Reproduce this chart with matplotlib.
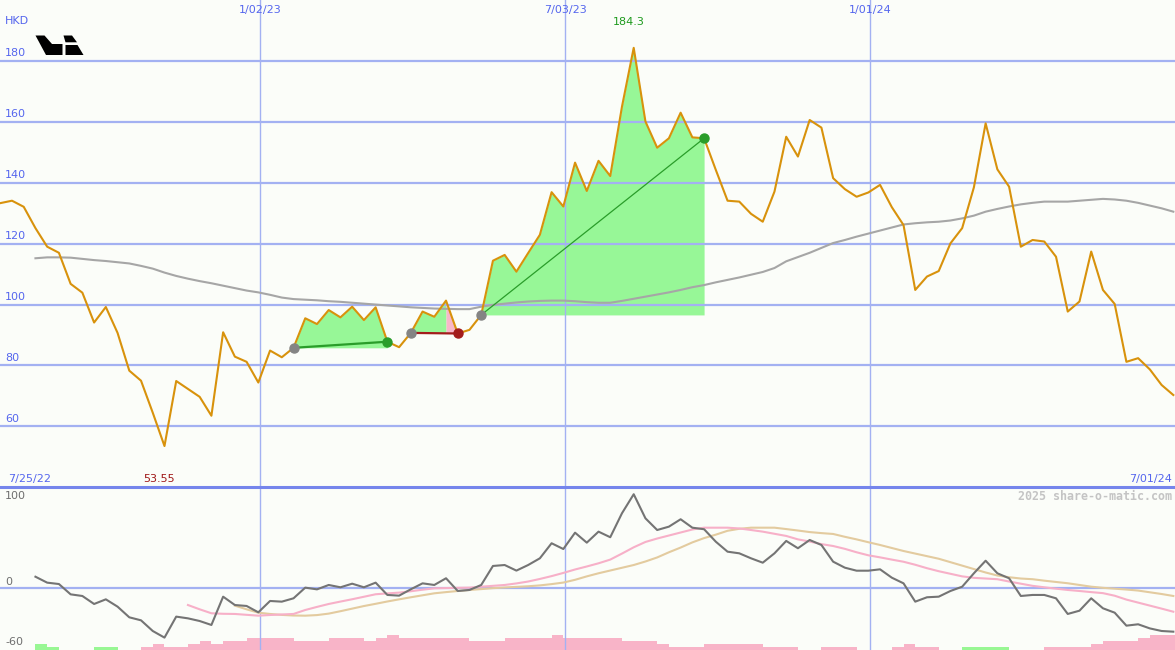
import numpy as np
import pandas as pd
import matplotlib
matplotlib.use('Agg')
import matplotlib.pyplot as plt
import matplotlib.transforms as mtransforms
from matplotlib.patches import Polygon
from matplotlib.lines import Line2D

# weekly closes, HKD
dates = pd.date_range('2022-07-31', periods=101, freq='7D')

price = [133.3, 134.1, 132.1, 125.1, 119.0, 117.0, 106.8, 103.9, 94.1, 99.2,
         90.7, 78.3, 75.0, 64.5, 53.55, 74.9, 72.3, 69.7, 63.5, 90.9,
         82.9, 81.2, 74.4, 84.9, 82.7, 85.8, 95.5, 93.6, 98.2, 95.8,
         99.3, 94.9, 99.1, 87.8, 86.0, 90.7, 97.7, 96.0, 101.3, 90.5,
         91.7, 96.6, 114.4, 116.3, 110.8, 116.9, 122.9, 136.9, 132.2, 146.6,
         137.3, 147.2, 142.2, 165.0, 184.3, 160.1, 151.5, 154.6, 163.0, 154.9,
         154.6, 144.2, 134.1, 133.8, 129.8, 127.2, 137.1, 155.1, 148.6, 160.6,
         158.1, 141.5, 137.9, 135.4, 136.8, 139.3, 132.0, 126.1, 104.8, 109.2,
         111.0, 120.1, 125.1, 138.5, 159.5, 144.4, 138.7, 119.0, 121.2, 120.7,
         115.7, 97.7, 101.0, 117.4, 104.8, 100.2, 81.2, 82.4, 78.7, 73.6,
         70.3]

# long moving average (starts at week 3)
ma_start = 3
ma = [115.2, 115.5, 115.5, 115.4, 115.0, 114.6, 114.3, 113.9, 113.5, 112.7,
      111.8, 110.5, 109.4, 108.5, 107.7, 107.0, 106.2, 105.4, 104.6, 104.0,
      103.2, 102.3, 101.8, 101.6, 101.4, 101.1, 100.9, 100.6, 100.3, 100.0,
      99.7, 99.4, 99.1, 98.9, 98.7, 98.6, 98.5, 98.5, 99.3, 99.9,
      100.3, 100.7, 101.0, 101.2, 101.3, 101.3, 101.1, 100.8, 100.6, 100.6,
      101.2, 101.9, 102.6, 103.3, 104.0, 104.8, 105.7, 106.4, 107.3, 108.1,
      108.9, 109.8, 110.7, 112.0, 114.2, 115.6, 117.0, 118.6, 120.2, 121.2,
      122.3, 123.3, 124.3, 125.3, 126.3, 126.7, 127.0, 127.2, 127.6, 128.3,
      129.2, 130.5, 131.4, 132.2, 132.9, 133.4, 133.8, 133.8, 133.8, 134.1,
      134.4, 134.7, 134.5, 134.1, 133.4, 132.5, 131.6, 130.5]

# oscillator panel
osc_start = 3
osc = [13.1, 6.2, 4.6, -7.4, -9.3, -18.6, -13.2, -21.7, -34.1, -37.6,
       -50.0, -57.7, -33.3, -35.3, -38.4, -43.0, -10.1, -19.8, -20.9, -28.3,
       -15.1, -15.9, -12.0, 0.4, -1.6, 3.5, 0.8, 5.0, 0.8, 6.2,
       -8.1, -8.9, -1.5, 5.4, 3.5, 11.3, -3.5, -2.3, 3.5, 25.6,
       26.7, 20.2, 26.7, 34.5, 52.0, 45.3, 64.3, 52.7, 65.5, 59.0,
       86.9, 109.0, 81.0, 67.4, 71.3, 79.9, 70.1, 68.3, 53.8, 42.2,
       40.3, 34.5, 29.4, 40.3, 54.7, 46.2, 55.8, 50.0, 30.6, 23.6,
       20.1, 20.1, 21.7, 12.0, 5.4, -15.9, -10.8, -10.1, -3.5, 1.5,
       17.1, 31.7, 17.1, 11.3, -9.3, -8.1, -8.1, -12.0, -30.2, -26.4,
       -12.0, -23.6, -28.7, -43.8, -42.2, -47.0, -50.0, -50.8]

pink_start = 16
osc_pink = [-19.8, -24.8, -29.4, -30.0, -30.2, -31.2, -32.2, -31.4, -30.8, -30.2,
            -25.6, -22.0, -18.6, -15.8, -13.1, -10.2, -7.3, -6.3, -5.4, -3.8,
            -2.0, -0.4, -0.1, 0.2, 0.4, 1.5, 2.5, 3.5, 5.3, 7.5,
            10.5, 13.8, 17.5, 21.5, 25.0, 28.7, 33.0, 40.0, 47.3, 53.5,
            57.5, 61.0, 64.5, 68.0, 70.1, 70.1, 70.1, 69.2, 67.4, 65.5,
            63.0, 60.5, 56.5, 54.0, 51.0, 48.8, 45.5, 41.5, 38.0, 35.6,
            33.0, 30.5, 27.0, 23.0, 19.5, 16.5, 13.5, 11.8, 11.0, 10.2,
            7.5, 5.0, 2.5, 0.8, -0.8, -2.3, -3.5, -4.8, -6.0, -9.0,
            -13.5, -17.0, -20.5, -24.0, -27.6]

tan_start = 20
osc_tan = [-20.5, -24.8, -28.7, -30.2, -31.3, -32.0, -32.2, -31.5, -29.8, -27.0,
           -24.0, -21.0, -18.4, -15.7, -13.2, -10.8, -8.5, -6.2, -4.8, -3.5,
           -2.3, -1.3, -0.2, 0.6, 1.3, 2.0, 3.0, 4.5, 6.3, 9.5,
           13.5, 17.1, 20.3, 23.5, 26.7, 30.8, 35.5, 41.5, 47.0, 53.0,
           58.0, 62.0, 66.5, 68.8, 70.1, 70.1, 70.1, 68.5, 66.8, 65.0,
           63.8, 62.8, 59.5, 56.5, 53.2, 50.0, 46.5, 43.0, 40.0, 37.0,
           34.0, 30.0, 26.0, 22.0, 18.0, 14.5, 12.5, 11.0, 10.2, 8.5,
           7.0, 5.5, 3.5, 1.5, 0.2, -0.8, -1.8, -3.0, -5.0, -7.0, -9.3]

# histogram steps at the bottom (+ green, - pink)
bar_level = [0, 0, 0, 2, 1, 0, 0, 0, 1, 1,
             0, 0, -1, -2, -1, -1, -2, -3, -2, -3,
             -3, -4, -4, -4, -4, -3, -3, -3, -4, -4,
             -4, -3, -4, -5, -4, -4, -4, -4, -4, -4,
             -3, -3, -3, -4, -4, -4, -4, -5, -4, -4,
             -4, -4, -4, -3, -3, -3, -2, -1, -1, -1,
             -2, -2, -2, -2, -2, -1, -1, -1, 0, 0,
             -1, -1, -1, 0, 0, 0, -1, -2, -1, -1,
             0, 0, 1, 1, 1, 1, 0, 0, 0, -1,
             -1, -1, -1, -2, -3, -3, -3, -4, -5, -5, -5]

# trades: entry / exit week index
trade_in = [25, 35, 41]
trade_out = [33, 39, 60]

price_ticks = [60, 80, 100, 120, 140, 160, 180]
osc_ticks = [100, 0, -60]
vlines = ['2023-01-02', '2023-07-03', '2024-01-01']
vline_labels = ['1/02/23', '7/03/23', '1/01/24']

bg = '#fbfdf9'
grid_c = '#a3b1f2'
txt_blue = '#5566ee'

price = np.array(price)
fig = plt.figure(figsize=(11.75, 6.5), dpi=100)
fig.patch.set_facecolor(bg)
ax = fig.add_axes([0, 163 / 650, 1, 487 / 650])
ax2 = fig.add_axes([0, 0, 1, 163 / 650], sharex=ax)
ax3 = ax2.twinx()
for a in (ax, ax2, ax3):
    a.set_facecolor(bg)
    for s in a.spines.values():
        s.set_visible(False)
    a.set_xticks([])
    a.set_yticks([])
ax2.set_zorder(ax3.get_zorder() + 1)
ax2.patch.set_visible(False)

x0 = pd.Timestamp('2023-01-02') - pd.Timedelta(days=155.15)
ax.set_xlim(x0, pd.Timestamp('2024-07-01'))
ax.set_ylim(40.1, 200.0)
ax2.set_ylim(-72.1, 117.4)
ax3.set_ylim(0, 54.3)

# grid
for v in price_ticks:
    ax.axhline(v, color=grid_c, lw=1.6, zorder=2)
ax2.axhline(0, color=grid_c, lw=1.6, zorder=2)
for d in vlines:
    ax.axvline(pd.Timestamp(d), color=grid_c, lw=1.0, zorder=2)
    ax2.axvline(pd.Timestamp(d), color=grid_c, lw=1.0, zorder=2)
fig.add_artist(Line2D([0, 1], [163 / 650, 163 / 650], color='#7585ec', lw=2.2))

# trades
for i, j in zip(trade_in, trade_out):
    base = price[i]
    win = price[j] > base
    seg_y = price[i:j + 1]
    if win:
        ax.fill_between(dates[i:j + 1], base, seg_y, color='#97f797', lw=0, zorder=1)
        lc, ec, lw = '#2a9d2a', '#2a9d2a', 1.6 if j - i < 12 else 0.9
    else:
        pk = i + int(np.argmax(seg_y))
        ax.fill_between(dates[i:pk + 1], base, price[i:pk + 1], color='#97f797', lw=0, zorder=1)
        ax.fill_between(dates[pk:j + 1], base, price[pk:j + 1], color='#f8b6c9', lw=0, zorder=1)
        lc, ec, lw = '#a31c1c', '#a31c1c', 1.6
    ax.plot([dates[i], dates[j]], [price[i], price[j]], color=lc, lw=lw, zorder=4)
    ax.plot(dates[i], price[i], 'o', color='#848484', ms=6.5, zorder=5)
    ax.plot(dates[j], price[j], 'o', color=ec, ms=6.5, zorder=5)

ax.plot(dates[ma_start:], ma, color='#a6a6a6', lw=1.5, zorder=3)
ax.plot(dates, price, color='#d8920c', lw=1.5, zorder=4)

# oscillator
ax2.plot(dates[tan_start:], osc_tan, color='#e3cb9f', lw=1.5, zorder=3)
ax2.plot(dates[pink_start:], osc_pink, color='#f7b0c8', lw=1.5, zorder=3)
ax2.plot(dates[osc_start:], osc, color='#747474', lw=1.5, zorder=4)
lv = np.array(bar_level)
ax3.bar(dates, np.abs(lv), width=7, align='edge', lw=0,
        color=['#98f794' if v > 0 else '#f8b4c8' for v in lv])

# labels
ty = mtransforms.blended_transform_factory(ax.transAxes, ax.transData)
for v in price_ticks:
    ax.text(5 / 1175, v + 0.9, str(v), transform=ty, color=txt_blue,
            fontsize=8, ha='left', va='bottom', zorder=6)
ty2 = mtransforms.blended_transform_factory(ax2.transAxes, ax2.transData)
y_lo = ax2.get_ylim()[0]
for v in osc_ticks:
    ly = v + 7 if v > -50 else y_lo + 9.3   # lowest label sits on the bottom edge
    ax2.text(5 / 1175, ly, str(v), transform=ty2, color='#6e6e6e',
             fontsize=8, ha='left', va='center', zorder=6)

tx = mtransforms.blended_transform_factory(ax.transData, ax.transAxes)
for d, s in zip(vlines, vline_labels):
    ax.text(pd.Timestamp(d), 1 - 10 / 487, s, transform=tx, color=txt_blue,
            fontsize=8, ha='center', va='center')
imax = int(np.argmax(price))
imin = int(np.argmin(price))
ax.text(dates[imax] - pd.Timedelta(days=3), 1 - 22 / 487, f'{price[imax]:.1f}',
        transform=tx, color='#1e9a1e', fontsize=8, ha='center', va='center')
ax.text(dates[imin] - pd.Timedelta(days=3), 8 / 487, f'{price[imin]:.2f}',
        transform=tx, color='#a01818', fontsize=8, ha='center', va='center')
ax.text(8 / 1175, 8 / 487, '7/25/22', transform=ax.transAxes, color=txt_blue,
        fontsize=8, ha='left', va='center')
ax.text(1 - 3 / 1175, 8 / 487, '7/01/24', transform=ax.transAxes, color=txt_blue,
        fontsize=8, ha='right', va='center')
ax.text(5 / 1175, 1 - 21 / 487, 'HKD', transform=ax.transAxes, color=txt_blue,
        fontsize=8, ha='left', va='center')
fig.text(1 - 3 / 1175, 1 - 496 / 650, '2025 share-o-matic.com', color='#c4c4c4',
         fontsize=8.4, family='DejaVu Sans Mono', weight='bold', ha='right', va='center')

# logo (pixel coords)
logo = [[(35.5, 35.5), (44.5, 35.5), (52, 44), (62.5, 44), (62.5, 55), (46, 55)],
        [(63.5, 35.5), (72, 35.5), (77, 42.3), (65.5, 42.3)],
        [(65.5, 45), (77.5, 45), (83.5, 55), (65.5, 55)]]
for poly in logo:
    pts = [(px / 1175, 1 - py / 650) for px, py in poly]
    fig.add_artist(Polygon(pts, closed=True, facecolor='black', edgecolor='none',
                           transform=fig.transFigure))

fig.savefig('out.png', dpi=100, facecolor=bg)
